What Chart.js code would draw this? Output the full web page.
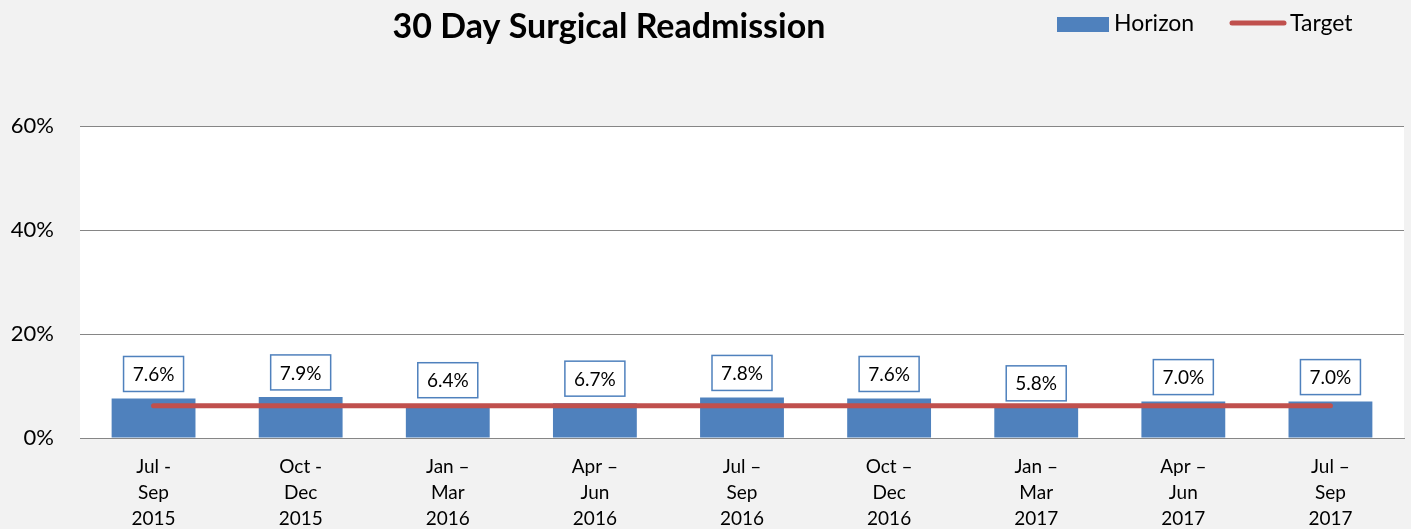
<!DOCTYPE html>
<html>
<head>
<meta charset="utf-8">
<script src="https://cdn.jsdelivr.net/npm/chart.js@4.4.0/dist/chart.umd.min.js"></script>
<style>
  html, body { margin: 0; padding: 0; background: #f2f2f2; }
  #wrap { width: 1411px; height: 529px; position: relative; }
</style>
</head>
<body>
<div id="wrap"><canvas id="readmitChart"></canvas></div>
<script>
// Chart data
const quarterLabels = [
  ['Jul -', 'Sep', '2015'],
  ['Oct -', 'Dec', '2015'],
  ['Jan –', 'Mar', '2016'],
  ['Apr –', 'Jun', '2016'],
  ['Jul –', 'Sep', '2016'],
  ['Oct –', 'Dec', '2016'],
  ['Jan –', 'Mar', '2017'],
  ['Apr –', 'Jun', '2017'],
  ['Jul –', 'Sep', '2017']
];
const horizonRates = [7.6, 7.9, 6.4, 6.7, 7.8, 7.6, 5.8, 7.0, 7.0];
const targetRates = [6.2, 6.2, 6.2, 6.2, 6.2, 6.2, 6.2, 6.2, 6.2];
const yTicks = [0, 20, 40, 60];

const FONT = 'Lato, "Open Sans", sans-serif';
const BLUE = '#4f81bd';
const RED = '#c0504d';

// white plot area behind the bars
const plotBackground = {
  id: 'plotBackground',
  beforeDraw(chart) {
    const { ctx, chartArea: a } = chart;
    ctx.save();
    ctx.fillStyle = '#ffffff';
    ctx.fillRect(a.left, a.top, a.right - a.left, a.bottom - a.top);
    ctx.restore();
  }
};

// boxed value labels above each bar
const valueBoxes = {
  id: 'valueBoxes',
  afterDatasetsDraw(chart) {
    const { ctx } = chart;
    const meta = chart.getDatasetMeta(0);
    ctx.save();
    ctx.font = '19px ' + FONT;
    ctx.textAlign = 'center';
    ctx.textBaseline = 'middle';
    meta.data.forEach((bar, i) => {
      const w = 60, h = 35;
      const bottom = bar.y - 7;
      const left = bar.x - w / 2;
      ctx.fillStyle = '#ffffff';
      ctx.fillRect(left, bottom - h, w, h);
      ctx.strokeStyle = BLUE;
      ctx.lineWidth = 1.5;
      ctx.strokeRect(left, bottom - h, w, h);
      ctx.fillStyle = '#000000';
      ctx.fillText(horizonRates[i].toFixed(1) + '%', bar.x, bottom - h / 2 + 1);
    });
    ctx.restore();
  }
};

// title and legend drawn in the header
const header = {
  id: 'header',
  afterDraw(chart) {
    const { ctx } = chart;
    ctx.save();
    ctx.fillStyle = '#000000';
    ctx.textBaseline = 'middle';
    ctx.textAlign = 'center';
    ctx.font = 'bold 34px ' + FONT;
    ctx.fillText('30 Day Surgical Readmission', 609, 27);

    ctx.textAlign = 'left';
    ctx.font = '23px ' + FONT;
    ctx.fillStyle = BLUE;
    ctx.fillRect(1057, 17, 52, 15);
    ctx.fillStyle = '#000000';
    ctx.fillText('Horizon', 1114, 24);

    ctx.strokeStyle = RED;
    ctx.lineWidth = 5;
    ctx.lineCap = 'round';
    ctx.beginPath();
    ctx.moveTo(1232, 23);
    ctx.lineTo(1284, 23);
    ctx.stroke();
    ctx.fillText('Target', 1290, 24);
    ctx.restore();
  }
};

new Chart(document.getElementById('readmitChart'), {
  type: 'bar',
  data: {
    labels: quarterLabels,
    datasets: [
      {
        label: 'Horizon',
        data: horizonRates,
        backgroundColor: BLUE,
        borderWidth: 0,
        categoryPercentage: 1,
        barPercentage: 0.57,
        order: 2
      },
      {
        label: 'Target',
        type: 'line',
        data: targetRates,
        borderColor: RED,
        borderWidth: 5,
        borderCapStyle: 'round',
        pointRadius: 0,
        fill: false,
        order: 1
      }
    ]
  },
  options: {
    responsive: true,
    maintainAspectRatio: false,
    animation: false,
    layout: { padding: { top: 126, right: 7, left: 0, bottom: 0 } },
    plugins: {
      legend: { display: false },
      title: { display: false },
      tooltip: { enabled: false }
    },
    scales: {
      x: {
        grid: { display: false, drawTicks: false },
        border: { color: '#868686', width: 1 },
        ticks: {
          color: '#000000',
          padding: 16,
          maxRotation: 0,
          font: { family: FONT, size: 19, lineHeight: '26px' }
        },
        afterFit(scale) { scale.height = 91; }
      },
      y: {
        min: 0,
        max: 60,
        afterBuildTicks(scale) { scale.ticks = yTicks.map(v => ({ value: v })); },
        grid: { color: '#868686', drawTicks: false },
        border: { display: false },
        ticks: {
          color: '#000000',
          padding: 26,
          font: { family: FONT, size: 22 },
          callback: v => v + '%'
        },
        afterFit(scale) { scale.width = 80; }
      }
    }
  },
  plugins: [plotBackground, valueBoxes, header]
});
</script>
</body>
</html>
